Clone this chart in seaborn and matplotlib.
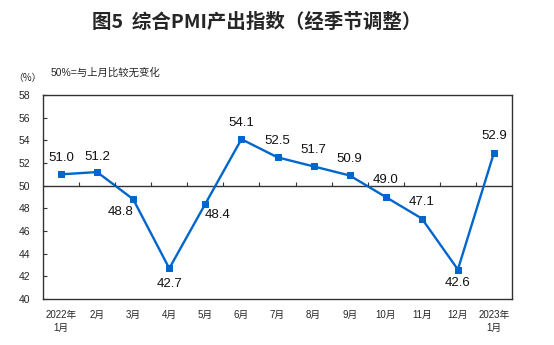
import matplotlib
matplotlib.use("Agg")
import matplotlib.pyplot as plt
import seaborn as sns
import pandas as pd
import numpy as np

months = ["2022年\n1月", "2月", "3月", "4月", "5月", "6月", "7月", "8月",
          "9月", "10月", "11月", "12月", "2023年\n1月"]
values = [51.0, 51.2, 48.8, 42.7, 48.4, 54.1, 52.5, 51.7, 50.9, 49.0, 47.1, 42.6, 52.9]
y_ticks = [40, 42, 44, 46, 48, 50, 52, 54, 56, 58]

# label offsets (points) around each marker
label_offsets = [(0, 12), (0, 11), (-9, -9), (0, -11), (9, -8), (0, 12), (0, 12),
                 (0, 12), (0, 12), (0, 12), (0, 12), (0, -10), (0, 12)]

sns.set_style("white")
plt.rcParams["font.family"] = ["Liberation Sans", "Noto Sans CJK SC", "DejaVu Sans"]

line_color = "#0066CC"

df = pd.DataFrame({"pos": np.arange(len(values)), "value": values})

fig = plt.figure(figsize=(5.54, 3.45), dpi=100)
ax = fig.add_axes([43 / 554, 1 - 299 / 345, (512 - 43) / 554, (299 - 95) / 345])

sns.lineplot(data=df, x="pos", y="value", ax=ax, color=line_color, linewidth=1.7,
             marker="s", markersize=4.5, markeredgecolor=line_color,
             markerfacecolor=line_color)

ax.set_xlim(-0.5, len(values) - 0.5)
ax.set_ylim(40, 58)
ax.set_yticks(y_ticks)
ax.set_yticklabels([str(t) for t in y_ticks], fontsize=7.5)
ax.set_xticks(df["pos"])
ax.set_xticklabels(months, fontsize=7, linespacing=1.3)
ax.tick_params(axis="x", length=0, pad=8)
ax.tick_params(axis="y", direction="in", length=3, width=0.8, pad=9, left=True,
               color="#333333")
ax.set_xlabel("")
ax.set_ylabel("")

for s in ax.spines.values():
    s.set_color("#333333")
    s.set_linewidth(1.0)

# 50 reference line with small upward ticks between months
ax.axhline(50, color="#333333", linewidth=1.0, zorder=1)
ax.vlines(np.arange(len(values) - 1) + 0.5, 50, 50.35, color="#333333", linewidth=0.8)

for i, v in enumerate(values):
    dx, dy = label_offsets[i]
    ax.annotate(f"{v:.1f}", (i, v), xytext=(dx, dy), textcoords="offset points",
                ha="center", va="center", fontsize=9.5, color="#111111")

fig.text(257 / 554, 1 - 22 / 345, "图5  综合PMI产出指数（经季节调整）", ha="center", va="center",
         fontsize=14, fontweight="bold", family=["Noto Sans CJK SC", "DejaVu Sans"])
fig.text(27 / 554, 1 - 78 / 345, "（%）", ha="center", va="center", fontsize=7,
         family=["Noto Sans CJK SC", "DejaVu Sans"])
fig.text(51 / 554, 1 - 73 / 345, "50%=与上月比较无变化", ha="left", va="center", fontsize=7.5)

fig.savefig("out.png", dpi=100)
